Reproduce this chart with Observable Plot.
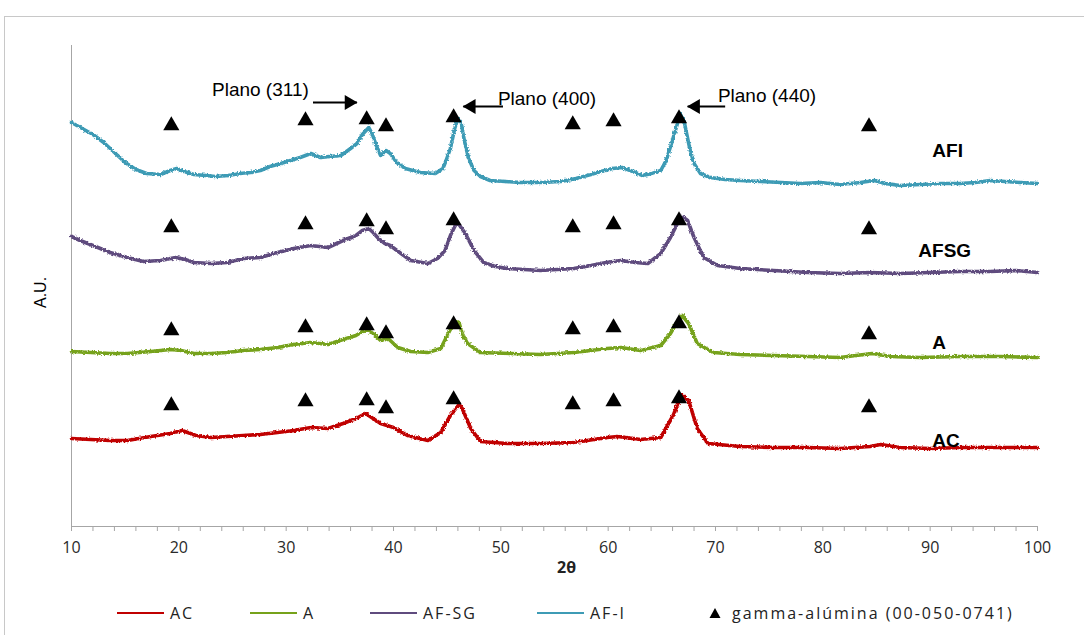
<!DOCTYPE html>
<html>
<head>
<meta charset="utf-8">
<script src="https://cdn.jsdelivr.net/npm/d3@7"></script>
<script src="https://cdn.jsdelivr.net/npm/@observablehq/plot@0.6"></script>
<style>
  body { margin: 0; background: #fff; }
  #wrap { position: relative; width: 1084px; height: 635px; overflow: hidden; font-family: "Liberation Sans", Arial, sans-serif; }
  #frame { position: absolute; left: 4px; top: 16px; width: 1100px; height: 640px; border-left: 1px solid #c8c8c8; border-top: 1px solid #c8c8c8; }
  #chart { position: absolute; left: 0; top: 0; }
  #legend { position: absolute; left: 0; top: 600px; width: 1084px; height: 25px; font-family: "Open Sans", sans-serif; font-size: 16px; color: #222; letter-spacing: 2px; }
  .item { position: absolute; top: 0; height: 25px; display: flex; align-items: center; white-space: nowrap; }
  .sw { display: inline-block; width: 47px; height: 2px; margin-right: 6px; }
</style>
</head>
<body>
<div id="wrap">
  <div id="frame"></div>
  <div id="chart"></div>
  <div id="legend"></div>
</div>
<script>
// XRD patterns: [2θ (deg), intensity (A.U., stacked with offsets)]
const acPoints = [
  [10.0,88],[11.8,87],[13.6,86],[15.2,86],[17.4,90],[19.2,93],[20.3,96],[21.6,91],[23.0,89],[24.5,90],
  [26.0,91],[27.6,92],[29.2,94],[30.7,96],[32.3,99],[33.9,98],[35.3,103],[36.5,108],[37.4,113],[38.1,108],
  [38.8,103],[39.4,101],[40.0,99],[41.3,91],[43.2,86],[44.4,94],[45.3,111],[46.1,122],[46.4,118],[47.2,98],
  [48.1,85],[50.6,83],[53.7,83],[56.8,84],[59.9,89],[60.9,90],[63.0,87],[64.9,89],[66.1,112],[66.8,132],
  [67.5,126],[68.3,98],[69.3,83],[72.3,80],[75.4,79],[78.6,79],[81.6,78],[84.4,80],[85.4,82],[87.2,79],
  [90.0,78],[92.8,79],[96.6,79],[100.0,79]
];
const aPoints = [
  [10.0,175],[11.8,174],[13.6,173],[15.2,173],[17.4,175],[19.2,177],[20.2,176],[21.4,173],[23.0,173],[24.5,174],
  [26.0,176],[27.6,177],[29.2,179],[30.7,182],[32.3,184],[33.9,182],[35.3,187],[36.5,191],[37.1,195],[37.6,196],
  [38.1,193],[38.8,186],[39.5,188],[40.4,179],[41.6,175],[43.2,174],[44.4,178],[45.1,193],[45.7,205],[46.1,204],
  [46.4,193],[46.9,183],[48.1,174],[50.9,173],[53.7,172],[56.8,174],[59.9,178],[61.2,179],[63.0,176],[64.9,181],
  [65.8,193],[66.5,206],[66.9,211],[67.5,203],[68.3,183],[69.8,174],[72.3,172],[75.4,171],[78.6,170],[81.6,169],
  [84.6,173],[86.3,170],[89.1,169],[92.8,170],[96.6,170],[100.0,169]
];
const afsgPoints = [
  [10.0,290],[10.8,286],[12.0,281],[13.6,274],[15.2,269],[16.7,265],[18.3,266],[19.7,269],[20.6,267],[21.4,264],
  [23.0,263],[24.5,264],[26.0,268],[27.6,269],[29.2,274],[30.7,278],[32.3,281],[33.9,279],[35.3,286],[36.5,291],
  [37.1,296],[37.7,298],[38.1,294],[38.6,288],[39.2,283],[39.7,281],[40.7,273],[41.6,266],[43.2,263],[44.1,268],
  [44.8,276],[45.3,291],[45.8,302],[46.1,302],[46.7,293],[47.5,276],[48.4,264],[49.5,260],[50.6,258],[53.7,256],
  [56.8,258],[58.4,261],[59.8,264],[61.2,266],[62.5,264],[63.7,263],[64.9,273],[65.8,289],[66.5,304],[66.9,310],
  [67.4,306],[68.0,289],[68.9,269],[70.2,261],[72.3,258],[75.4,256],[78.6,254],[81.6,253],[84.4,254],[87.2,253],
  [90.0,254],[92.8,255],[95.6,255],[98.0,256],[100.0,254]
];
const afiPoints = [
  [10.0,404],[11.0,398],[12.0,392],[13.0,384],[14.0,374],[15.0,364],[16.0,357],[17.0,353],[18.3,352],
  [19.2,356],[19.8,358],[20.5,355],[21.4,352],[22.5,351],[23.4,350],[24.6,351],[25.7,353],[26.7,354],[27.6,356],
  [28.5,360],[29.5,363],[30.4,366],[31.3,369],[32.3,373],[33.2,369],[34.1,370],[35.1,371],[36.0,378],[36.6,383],
  [37.1,392],[37.7,399],[38.0,393],[38.4,381],[38.8,371],[39.3,376],[39.7,373],[40.3,364],[41.1,358],[42.5,354],
  [43.9,353],[44.6,358],[44.9,366],[45.3,378],[45.7,398],[46.0,408],[46.3,404],[46.6,386],[47.0,368],[47.5,356],
  [48.1,350],[49.0,346],[50.4,345],[51.8,344],[53.7,344],[55.6,345],[57.0,348],[58.4,352],[59.3,355],[60.4,358],
  [61.3,359],[62.3,355],[63.2,351],[64.1,353],[64.9,356],[65.4,366],[65.9,383],[66.4,401],[66.7,413],[67.1,404],
  [67.6,378],[68.0,363],[68.6,353],[69.5,349],[70.9,347],[72.3,346],[74.2,345],[76.1,344],[77.9,343],[79.8,344],
  [81.6,342],[83.5,344],[84.8,346],[85.8,343],[87.2,341],[89.1,342],[91.0,343],[92.8,343],[94.2,344],[95.6,346],
  [97.0,345],[98.4,344],[100.0,343]
];

const seriesNames = ["AC", "A", "AF-SG", "AF-I"];
const seriesColors = ["#c00000", "#76a21a", "#5f4b7e", "#3e9bb5"];
const seriesPoints = [acPoints, aPoints, afsgPoints, afiPoints];

// gamma-alumina reference reflections (00-050-0741) and the level each row of markers sits at
const gammaPeaks = [19.3, 31.8, 37.5, 39.3, 45.6, 56.7, 60.5, 66.6, 84.3];
const markerLevelAC   = [123, 127, 128, 120, 129, 124, 127, 130, 121];
const markerLevelA    = [198, 201, 203, 195, 204, 199, 201, 205, 194];
const markerLevelAFSG = [301, 304, 307, 299, 308, 301, 304, 308, 299];
const markerLevelAFI  = [403, 408, 409, 402, 411, 404, 407, 410, 402];

// curve names written next to each pattern
const curveLabels = ["AC", "A", "AFSG", "AFI"];
const curveLabelAt = [[90.2, 86], [90.2, 184], [88.9, 276], [90.2, 376]];

// crystal plane annotations with their arrows
const planeLabels = ["Plano (311)", "Plano (400)", "Plano (440)"];
const planeTextAt = [[27.6, 437], [54.3, 428], [74.8, 431]];
const planeArrows = [[32.5, 36.6, 424], [50.2, 46.5, 420], [70.9, 67.4, 420]];

const xTicks = d3.range(10, 101, 2);

// ---- tables for the marks ----
const lineRows = seriesPoints.flatMap((pts, i) => pts.map(([x, y]) => ({series: seriesNames[i], x, y})));
const markerRows = [markerLevelAC, markerLevelA, markerLevelAFSG, markerLevelAFI]
  .flatMap(levels => gammaPeaks.map((x, j) => ({x, y: levels[j]})));
const curveLabelRows = curveLabels.map((t, i) => ({t, x: curveLabelAt[i][0], y: curveLabelAt[i][1]}));
const planeRows = planeLabels.map((t, i) => ({
  t, tx: planeTextAt[i][0], ty: planeTextAt[i][1],
  x1: planeArrows[i][0], x2: planeArrows[i][1], y: planeArrows[i][2]
}));
const rightArrows = planeRows.filter(d => d.x2 > d.x1);
const leftArrows = planeRows.filter(d => d.x2 < d.x1);

const axisGray = "#a6a6a6";

const chart = Plot.plot({
  width: 1084,
  height: 590,
  marginLeft: 71,
  marginRight: 47,
  marginTop: 45,
  marginBottom: 64,
  x: {domain: [10, 100]},
  y: {domain: [0, 481], axis: null},
  color: {domain: seriesNames, range: seriesColors},
  style: {background: "transparent", overflow: "visible"},
  marks: [
    Plot.axisX({
      ticks: xTicks,
      tickSize: 5,
      tickPadding: 10,
      stroke: axisGray,
      tickFormat: d => (d % 10 === 0 ? String(d) : ""),
      fontSize: 16,
      fontFamily: "Open Sans, sans-serif",
      fill: "#2a2a2a",
      label: null,
      style: "letter-spacing:1.5px"
    }),
    Plot.ruleY([0], {stroke: axisGray, strokeWidth: 1}),
    Plot.ruleX([10], {stroke: axisGray, strokeWidth: 1}),
    Plot.line(lineRows, {
      x: "x", y: "y", z: "series", stroke: "series",
      strokeWidth: 3.6, strokeLinejoin: "round", curve: "linear"
    }),
    Plot.dot(markerRows, {x: "x", y: "y", symbol: "triangle", r: 6, fill: "black", stroke: "none", dy: 2}),
    Plot.text(curveLabelRows, {
      x: "x", y: "y", text: "t", textAnchor: "start",
      fontWeight: "bold", fontSize: 19, fontFamily: "Liberation Sans, Arial, sans-serif", fill: "black"
    }),
    Plot.text(planeRows, {
      x: "tx", y: "ty", text: "t", textAnchor: "middle",
      fontSize: 19, fontFamily: "Liberation Sans, Arial, sans-serif", fill: "black",
      style: "letter-spacing:1px"
    }),
    Plot.link(planeRows, {x1: "x1", x2: "x2", y1: "y", y2: "y", stroke: "black", strokeWidth: 2}),
    Plot.dot(rightArrows, {x: "x2", y: "y", symbol: "triangle", r: 5.5, rotate: 90, dx: -8, fill: "black", stroke: "none"}),
    Plot.dot(leftArrows, {x: "x2", y: "y", symbol: "triangle", r: 5.5, rotate: -90, dx: 8, fill: "black", stroke: "none"}),
    Plot.text(["2θ"], {
      frameAnchor: "bottom", dx: 12, dy: 46, text: d => d,
      fontWeight: "bold", fontSize: 16, fontFamily: "Open Sans, sans-serif", fill: "#222"
    }),
    Plot.text(["A.U."], {
      frameAnchor: "left", dx: -31, dy: 22, rotate: -90, text: d => d,
      fontSize: 16, fontFamily: "Liberation Sans, Arial, sans-serif", fill: "black"
    })
  ]
});

// slight roughness on the diffraction traces, as in a raw detector scan
const svg = d3.select(chart);
const defs = svg.insert("defs", ":first-child");
const rough = defs.append("filter").attr("id", "scan-grain")
  .attr("x", "-2%").attr("y", "-10%").attr("width", "104%").attr("height", "120%");
rough.append("feTurbulence").attr("type", "fractalNoise").attr("baseFrequency", "0.6")
  .attr("numOctaves", 2).attr("seed", 3).attr("result", "n");
rough.append("feDisplacementMap").attr("in", "SourceGraphic").attr("in2", "n")
  .attr("scale", 3.2).attr("xChannelSelector", "R").attr("yChannelSelector", "G");
svg.selectAll('g[aria-label="line"]').attr("filter", "url(#scan-grain)");

document.getElementById("chart").appendChild(chart);

// ---- legend below the chart ----
const legend = document.getElementById("legend");
const legendLeft = [117, 250, 370, 537];
seriesNames.forEach((name, i) => {
  const item = document.createElement("div");
  item.className = "item";
  item.style.left = legendLeft[i] + "px";
  const sw = document.createElement("span");
  sw.className = "sw";
  sw.style.background = seriesColors[i];
  item.appendChild(sw);
  item.appendChild(document.createTextNode(name));
  legend.appendChild(item);
});
const tri = document.createElement("div");
tri.className = "item";
tri.style.left = "709px";
tri.innerHTML = '<svg width="12" height="12" style="margin-right:11px"><polygon points="6,1 11.5,11 0.5,11" fill="black"/></svg>gamma-alúmina (00-050-0741)';
legend.appendChild(tri);
</script>
</body>
</html>
